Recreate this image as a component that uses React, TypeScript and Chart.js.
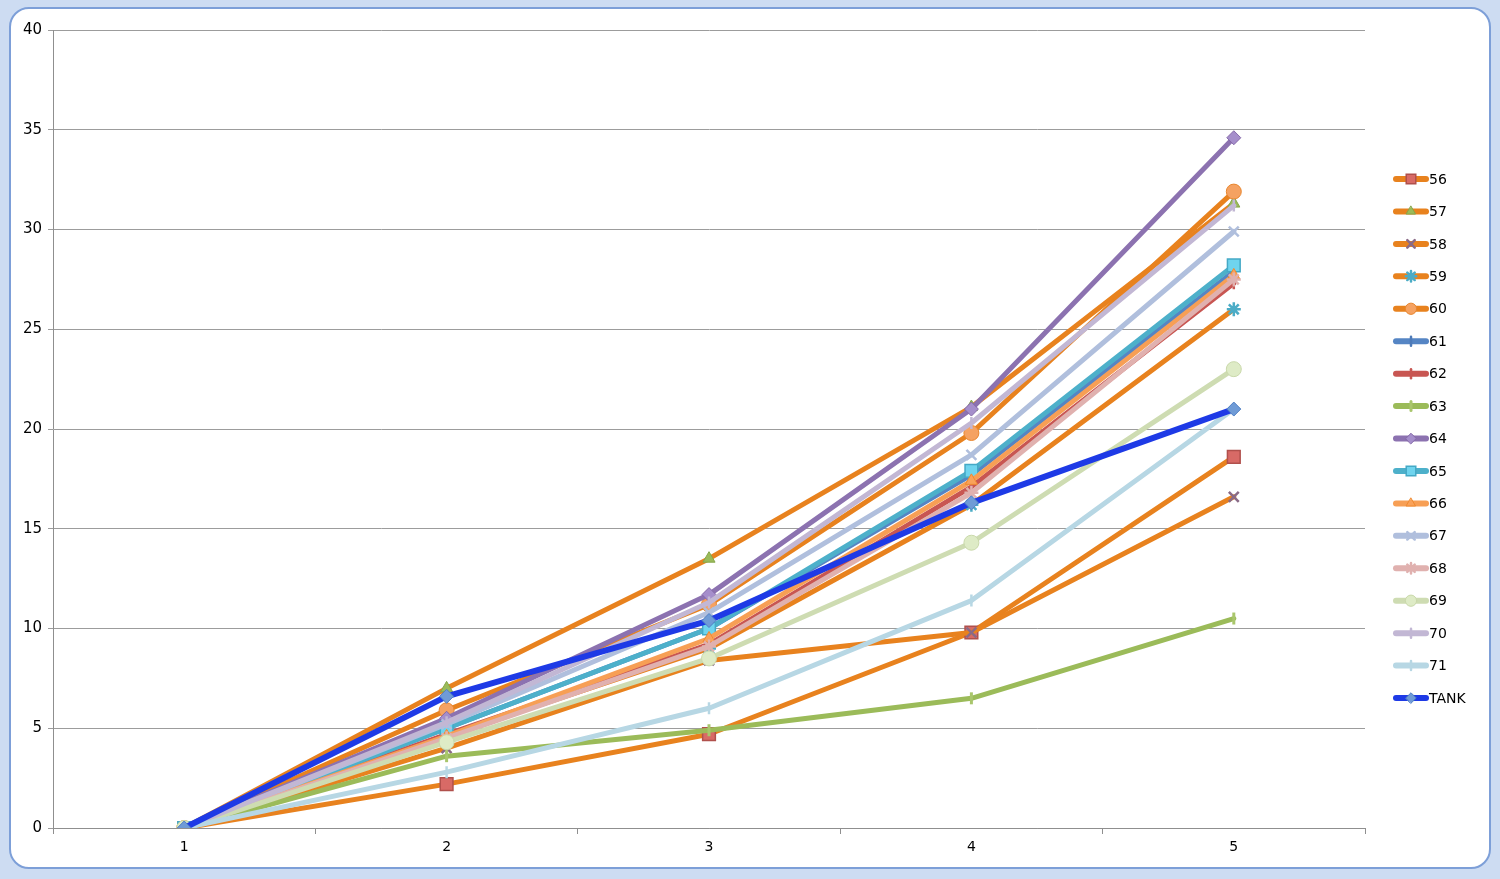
import React, { useEffect, useRef } from 'react';
import { Chart, registerables } from 'chart.js';
import { drawPoint } from 'chart.js/helpers';

Chart.register(...registerables);

const categories = ['1', '2', '3', '4', '5'];
const seriesNames = ['56', '57', '58', '59', '60', '61', '62', '63', '64', '65', '66', '67', '68', '69', '70', '71', 'TANK'];

const s56 = [0, 2.2, 4.7, 9.8, 18.6];
const s57 = [0, 7.0, 13.5, 21.1, 31.3];
const s58 = [0, 4.0, 8.4, 9.8, 16.6];
const s59 = [0, 4.6, 9.0, 16.2, 26.0];
const s60 = [0, 5.9, 11.2, 19.8, 31.9];
const s61 = [0, 5.0, 10.0, 17.7, 27.9];
const s62 = [0, 4.7, 9.2, 17.1, 27.3];
const s63 = [0, 3.6, 4.9, 6.5, 10.5];
const s64 = [0, 5.5, 11.7, 21.0, 34.6];
const s65 = [0, 5.0, 10.0, 17.9, 28.2];
const s66 = [0, 4.6, 9.5, 17.4, 27.7];
const s67 = [0, 5.2, 10.8, 18.7, 29.9];
const s68 = [0, 4.5, 9.1, 16.8, 27.5];
const s69 = [0, 4.3, 8.5, 14.3, 23.0];
const s70 = [0, 5.3, 11.3, 20.3, 31.2];
const s71 = [0, 2.8, 6.0, 11.4, 21.0];
const sTank = [0, 6.6, 10.4, 16.3, 21.0];

const seriesValues = [s56, s57, s58, s59, s60, s61, s62, s63, s64, s65, s66, s67, s68, s69, s70, s71, sTank];

const yMin = 0;
const yMax = 40;
const yStep = 5;

type Style = { line: string; style: any; r: number; fill: string; border: string; bw: number; w: number };
const styles: Style[] = [
  { line: '#E8821E', style: 'rect', r: 9, fill: '#D86A66', border: '#B0504C', bw: 1.5, w: 5 },
  { line: '#E8821E', style: 'triangle', r: 7, fill: '#9BBB59', border: '#86A64A', bw: 1, w: 5 },
  { line: '#E8821E', style: 'crossRot', r: 7, fill: '#8A6A86', border: '#8A6A86', bw: 2.5, w: 5 },
  { line: '#E8821E', style: 'star', r: 7, fill: '#4BACC6', border: '#4BACC6', bw: 2.5, w: 5 },
  { line: '#E8821E', style: 'circle', r: 7.5, fill: '#F5A262', border: '#E8862E', bw: 1, w: 5 },
  { line: '#5585C4', style: 'line', r: 6, fill: '#5585C4', border: '#4D7AB8', bw: 2.5, w: 5 },
  { line: '#C85652', style: 'line', r: 6, fill: '#C85652', border: '#C85652', bw: 2.5, w: 5 },
  { line: '#9BBB59', style: 'line', r: 6, fill: '#A9C66C', border: '#A9C66C', bw: 3, w: 5 },
  { line: '#8C72B0', style: 'rectRot', r: 7, fill: '#A58ECB', border: '#8468A8', bw: 1, w: 5 },
  { line: '#4DB0CA', style: 'rect', r: 9, fill: '#6FD4EE', border: '#45A9C6', bw: 1.5, w: 5 },
  { line: '#F79F55', style: 'triangle', r: 7, fill: '#F9A25A', border: '#F08A30', bw: 1, w: 5 },
  { line: '#B0BFDD', style: 'crossRot', r: 7, fill: '#B0BFDD', border: '#B0BFDD', bw: 2.5, w: 5 },
  { line: '#E0B1AF', style: 'star', r: 7, fill: '#E0B1AF', border: '#E0B1AF', bw: 2.5, w: 5 },
  { line: '#CEDCB2', style: 'circle', r: 7.5, fill: '#DEEBC6', border: '#C9D8AA', bw: 1, w: 5 },
  { line: '#C2B7D4', style: 'line', r: 6, fill: '#C2B7D4', border: '#C2B7D4', bw: 2.5, w: 5 },
  { line: '#B7D7E4', style: 'line', r: 6, fill: '#B7D7E4', border: '#B7D7E4', bw: 2.5, w: 5 },
  { line: '#1E3AE6', style: 'rectRot', r: 7, fill: '#6F9BD6', border: '#4F7FC3', bw: 1, w: 6 },
];

const FONT = "'DejaVu Sans', 'Liberation Sans', sans-serif";

const legendPlugin = {
  id: 'sideLegend',
  afterDraw(chart: any) {
    const ctx = chart.ctx;
    const n = chart.data.datasets.length;
    chart.data.datasets.forEach((ds: any, i: number) => {
      const st = styles[i];
      const y = 179 + i * ((698 - 179) / (n - 1));
      ctx.save();
      ctx.strokeStyle = st.line;
      ctx.lineWidth = 6;
      ctx.lineCap = 'round';
      ctx.beginPath();
      ctx.moveTo(1396, y);
      ctx.lineTo(1426, y);
      ctx.stroke();
      ctx.fillStyle = st.fill;
      ctx.strokeStyle = st.border;
      ctx.lineWidth = st.bw;
      drawPoint(ctx, { pointStyle: st.style, radius: st.r * 0.75, rotation: st.style === 'line' ? 90 : 0, borderWidth: st.bw }, 1411, y);
      ctx.fillStyle = '#000';
      ctx.font = `14px ${FONT}`;
      ctx.textBaseline = 'middle';
      ctx.textAlign = 'left';
      ctx.fillText(ds.label, 1429, y + 1);
      ctx.restore();
    });
  },
};

export default function App() {
  const ref = useRef<HTMLCanvasElement | null>(null);

  useEffect(() => {
    if (!ref.current) return;
    const datasets = seriesNames.map((name, i) => {
      const st = styles[i];
      return {
        label: name,
        data: seriesValues[i],
        borderColor: st.line,
        backgroundColor: st.line,
        borderWidth: st.w,
        pointStyle: st.style,
        pointRadius: st.r,
        pointRotation: st.style === 'line' ? 90 : 0,
        pointBackgroundColor: st.fill,
        pointBorderColor: st.border,
        pointBorderWidth: st.bw,
        tension: 0,
        fill: false,
        order: -i,
        borderJoinStyle: 'round' as const,
        borderCapStyle: 'round' as const,
      };
    });
    const chart = new Chart(ref.current, {
      type: 'line',
      data: { labels: categories, datasets },
      options: {
        responsive: false,
        animation: false,
        events: [],
        devicePixelRatio: 1,
        layout: { padding: { top: 30, right: 135, left: 0, bottom: 0 } },
        plugins: { legend: { display: false }, tooltip: { enabled: false } },
        scales: {
          x: {
            type: 'category',
            offset: true,
            grid: { display: true, drawOnChartArea: false, drawTicks: true, tickLength: 6, color: '#8f8f8f', offset: true },
            border: { display: true, color: '#8f8f8f', width: 1 },
            ticks: { color: '#000', font: { family: FONT, size: 14 }, padding: 5, maxRotation: 0 },
            afterFit(s: any) { s.height = 51; },
          },
          y: {
            min: yMin,
            max: yMax,
            ticks: { stepSize: yStep, color: '#000', font: { family: FONT, size: 15 }, padding: 6 },
            grid: { color: '#9c9c9c', tickLength: 5, lineWidth: 1 },
            border: { display: true, color: '#8f8f8f', width: 1 },
            afterFit(s: any) { s.width = 53; },
          },
        },
      },
      plugins: [legendPlugin],
    });
    return () => chart.destroy();
  }, []);

  return (
    <div style={{ position: 'absolute', left: 0, top: 0, width: 1500, height: 879, background: '#cddcf2', overflow: 'hidden' }}>
      <div style={{ position: 'absolute', left: 9, top: 7, width: 1478, height: 858, background: '#fff', border: '2px solid #7d9fd8', borderRadius: 20, boxSizing: 'content-box' }} />
      <canvas ref={ref} width={1500} height={879} style={{ position: 'absolute', left: 0, top: 0, width: 1500, height: 879 }} />
    </div>
  );
}
